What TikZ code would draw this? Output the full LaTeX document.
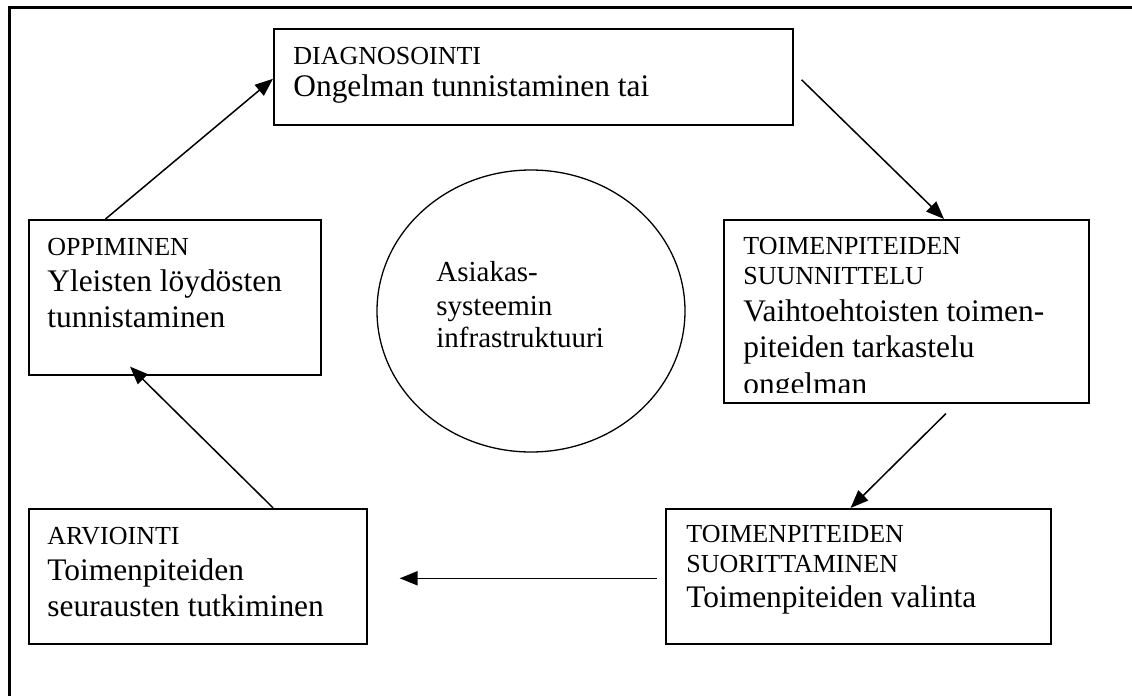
\documentclass[tikz,border=0pt]{standalone}
\usepackage{fontspec}
\setmainfont{Liberation Serif}
\usetikzlibrary{shapes.geometric,arrows.meta,calc}
\begin{document}
\begin{tikzpicture}[x=0.5pt,y=-0.5pt,
  box/.style={draw,line width=0.8pt,rectangle,inner sep=0pt,anchor=north west},
  sm/.style={anchor=base west,inner sep=0pt,font=\fontsize{13pt}{15pt}\selectfont},
  lg/.style={anchor=base west,inner sep=0pt,font=\fontsize{15.7pt}{18pt}\selectfont},
  md/.style={anchor=base west,inner sep=0pt,font=\fontsize{14.5pt}{17pt}\selectfont},
  arr/.style={line width=0.75pt,-{Triangle[length=9pt,width=7pt]}},
  frameline/.style={line width=1.3pt}]
\useasboundingbox (0,0) rectangle (1132,696);
\draw[frameline] (9.5,696) -- (9.5,7.5) -- (1132,7.5);

% boxes
\node[box,minimum width=259.5pt,minimum height=48pt] (diag) at (273,28) {};
\node[box,minimum width=182.5pt,minimum height=91.5pt] (suun) at (723,219) {};
\node[box,minimum width=146pt,minimum height=77.5pt] (opp) at (28,219) {};
\node[box,minimum width=169pt,minimum height=67.5pt] (arv) at (28,508) {};
\node[box,minimum width=192.5pt,minimum height=67.5pt] (suor) at (665,508) {};
\node[draw,line width=0.65pt,ellipse,inner sep=0pt,minimum width=154pt,minimum height=141pt] (infra) at (531,311) {};

% texts
\node[sm] (diag1) at (293,64) {DIAGNOSOINTI};
\node[lg] (diag2) at (293,97) {Ongelman tunnistaminen tai};

\node[sm] (suun1) at (743,254) {TOIMENPITEIDEN};
\node[sm] (suun2) at (743,284) {SUUNNITTELU};
\node[lg] (suun3) at (743,321) {Vaihtoehtoisten toimen-};
\node[lg] (suun4) at (743,357) {piteiden tarkastelu};
\begin{scope}
\clip (723,360) rectangle (1088,392);
\node[lg] (suun5) at (743,394) {ongelman};
\end{scope}

\node[sm] (opp1) at (47,255) {OPPIMINEN};
\node[lg] (opp2) at (47,291) {Yleisten löydösten};
\node[lg] (opp3) at (47,327) {tunnistaminen};

\node[sm] (arv1) at (47,544) {ARVIOINTI};
\node[lg] (arv2) at (47,580) {Toimenpiteiden};
\node[lg] (arv3) at (47,616) {seurausten tutkiminen};

\node[sm] (suor1) at (686,542) {TOIMENPITEIDEN};
\node[sm] (suor2) at (686,572) {SUORITTAMINEN};
\node[lg] (suor3) at (686,607) {Toimenpiteiden valinta};

\node[md] (inf1) at (436,281) {Asiakas-};
\node[md] (inf2) at (436,315) {systeemin};
\node[md] (inf3) at (436,347) {infrastruktuuri};

% arrows
\draw[arr] ($(opp.north west)!0.264!(opp.north east)$) -- ($(diag.west)+(0,2)$);
\draw[arr] ($(diag.east)+(8,3)$) -- ($(suun.north west)!0.603!(suun.north east)$);
\draw[arr] ($(suun.south west)!0.608!(suun.south east)+(0,10)$) -- ($(suor.north west)!0.48!(suor.north east)$);
\draw[arr] ($(suor.west)+(-8,2)$) -- ($(arv.east)+(32,2)$);
\draw[arr] ($(arv.north west)!0.722!(arv.north east)$) -- ($(opp.south west)+(102,-9)$);
\end{tikzpicture}
\end{document}
